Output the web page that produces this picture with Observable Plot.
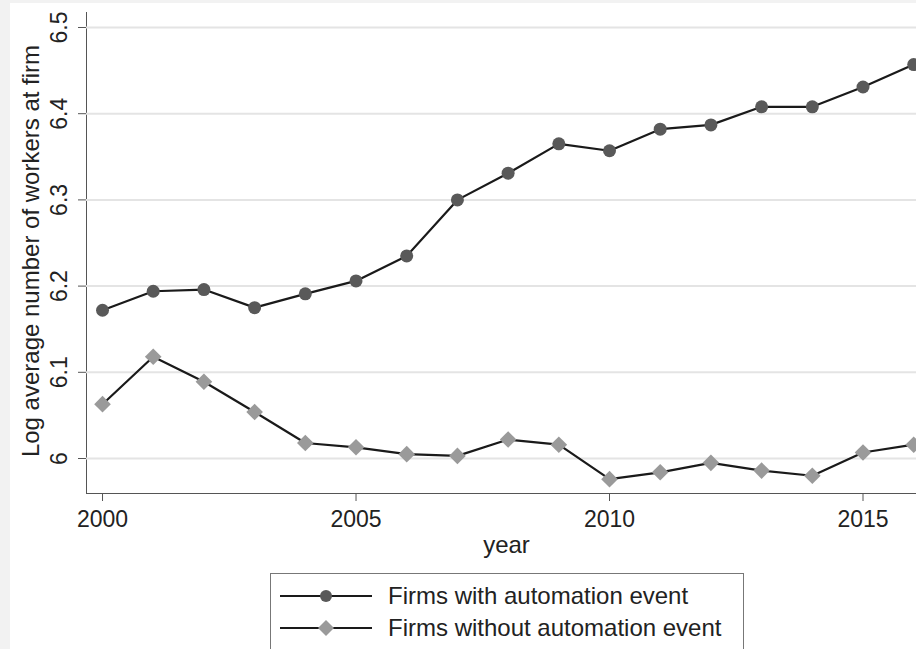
<!DOCTYPE html>
<html>
<head>
<meta charset="utf-8">
<script src="https://cdn.jsdelivr.net/npm/d3@7"></script>
<script src="https://cdn.jsdelivr.net/npm/@observablehq/plot@0.6"></script>
<style>
  html, body { margin: 0; padding: 0; width: 916px; height: 649px; overflow: hidden; background: #f2f2f2; font-family: "Liberation Sans", Arial, sans-serif; }
  #panel { position: absolute; left: 10px; top: 3px; right: 0; bottom: 0; background: #ffffff; }
  #chart { position: absolute; left: 0; top: 0; }
  #legend { position: absolute; left: 270px; top: 573px; width: 474px; height: 100px; border: 1px solid #777; background: #fff; box-sizing: border-box; }
  .row { position: absolute; left: 0; height: 32px; display: flex; align-items: center; }
  .row svg { margin-left: 9px; }
  .row span { margin-left: 16px; font-size: 24px; color: #222; }
</style>
</head>
<body>
<div id="panel"></div>
<div id="chart"></div>
<div id="legend">
  <div class="row" style="top:6px"><svg width="92" height="20"><line x1="0" y1="10" x2="92" y2="10" stroke="#1a1a1a" stroke-width="2.2"/><circle cx="46" cy="10" r="6" fill="#595959"/></svg><span>Firms with automation event</span></div>
  <div class="row" style="top:38px"><svg width="92" height="20"><line x1="0" y1="10" x2="92" y2="10" stroke="#1a1a1a" stroke-width="2.2"/><path d="M46,2L54,10L46,18L38,10Z" fill="#9a9a9a"/></svg><span>Firms without automation event</span></div>
</div>
<script>
const years = [2000, 2001, 2002, 2003, 2004, 2005, 2006, 2007, 2008, 2009, 2010, 2011, 2012, 2013, 2014, 2015, 2016];
const withAutomation = [6.172, 6.194, 6.196, 6.175, 6.191, 6.206, 6.235, 6.300, 6.331, 6.365, 6.357, 6.382, 6.387, 6.408, 6.408, 6.431, 6.457];
const withoutAutomation = [6.063, 6.118, 6.089, 6.054, 6.018, 6.013, 6.005, 6.003, 6.022, 6.016, 5.976, 5.984, 5.995, 5.986, 5.980, 6.007, 6.016];
const yTicks = [6, 6.1, 6.2, 6.3, 6.4, 6.5];
const yTickLabels = ["6", "6.1", "6.2", "6.3", "6.4", "6.5"];
const xTicks = [2000, 2005, 2010, 2015];
const yTitle = "Log average number of workers at firm";
const xTitle = "year";

const dataWith = years.map((y, i) => ({year: y, value: withAutomation[i]}));
const dataWithout = years.map((y, i) => ({year: y, value: withoutAutomation[i]}));
const yTickData = yTicks.map((v, i) => ({v, label: yTickLabels[i]}));

const chart = Plot.plot({
  width: 916,
  height: 560,
  marginLeft: 86,
  marginRight: 0,
  marginTop: 12,
  marginBottom: 67,
  style: {background: "transparent", fontFamily: "Liberation Sans, Arial, sans-serif", fontSize: "23px", color: "#555"},
  x: {domain: [1999.684, 2016.055], ticks: xTicks, tickFormat: d => String(d), tickSize: 8, tickPadding: 9, label: null, line: true},
  y: {domain: [5.9594, 6.5174], ticks: yTicks, tickSize: 8, tickFormat: () => "", label: null, line: true},
  marks: [
    Plot.ruleY(yTicks, {stroke: "#e4e4e4", strokeWidth: 2}),
    Plot.text(yTickData, {y: "v", text: "label", frameAnchor: "left", dx: -27, rotate: -90, textAnchor: "middle", lineAnchor: "middle", fill: "#222", fontSize: 23}),
    Plot.text([yTitle], {frameAnchor: "left", dx: -55, dy: -2, rotate: -90, textAnchor: "middle", lineAnchor: "middle", fill: "#222", fontSize: 24}),
    Plot.text([xTitle], {frameAnchor: "bottom", dx: 5, dy: 52, textAnchor: "middle", lineAnchor: "middle", fill: "#222", fontSize: 24}),
    Plot.line(dataWith, {x: "year", y: "value", stroke: "#1a1a1a", strokeWidth: 2.2}),
    Plot.line(dataWithout, {x: "year", y: "value", stroke: "#1a1a1a", strokeWidth: 2.2}),
    Plot.dot(dataWith, {x: "year", y: "value", r: 6.5, fill: "#595959", stroke: "none"}),
    Plot.dot(dataWithout, {x: "year", y: "value", r: 7.5, symbol: "diamond2", fill: "#9a9a9a", stroke: "none"})
  ]
});
chart.querySelectorAll('[aria-label="x-axis tick label"] text, [aria-label="x-axis tick label"]').forEach(el => el.setAttribute("fill", "#222"));
document.getElementById("chart").appendChild(chart);
</script>
</body>
</html>
